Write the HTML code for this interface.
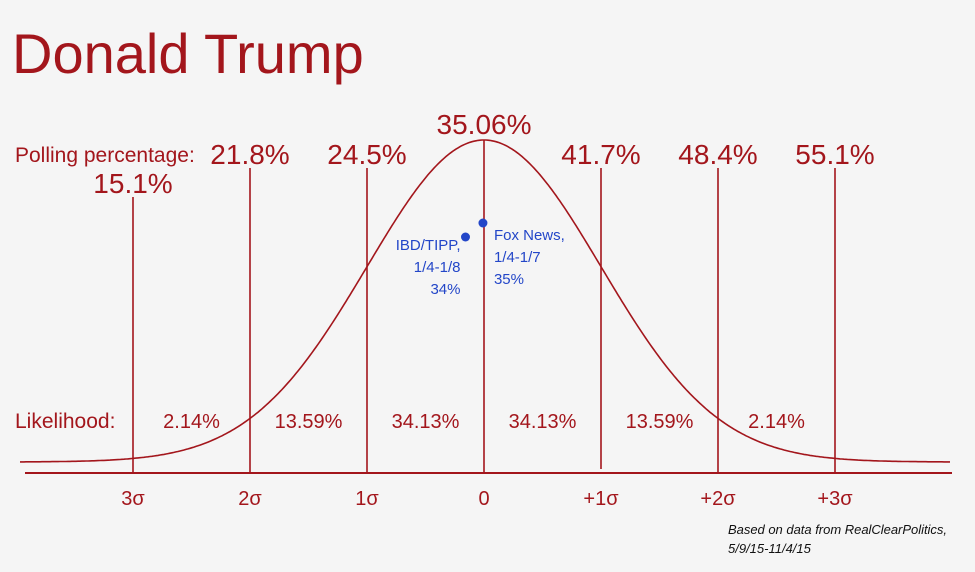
<!DOCTYPE html>
<html><head><meta charset="utf-8"><style>
body{margin:0;background:#f5f5f5;}
svg{display:block;font-family:"Liberation Sans",sans-serif;}
</style></head><body>
<svg width="975" height="572" id="c">
<rect width="975" height="572" fill="#f5f5f5"/>
<text x="12" y="73" font-size="56" fill="#a3161c">Donald Trump</text>
<text x="15" y="162" font-size="21" fill="#a3161c">Polling percentage:</text>
<text x="15" y="428" font-size="21" fill="#a3161c">Likelihood:</text>
<text x="728" y="534" font-size="13" font-style="italic" fill="#111" textLength="219">Based on data from RealClearPolitics,</text>
<text x="728" y="553" font-size="13" font-style="italic" fill="#111">5/9/15-11/4/15</text>
</svg>
<script>
const sigmaLabels=["3σ","2σ","1σ","0","+1σ","+2σ","+3σ"];
const sigmaSteps=[-3,-2,-1,0,1,2,3];
const pollValues=["15.1%","21.8%","24.5%","35.06%","41.7%","48.4%","55.1%"];
const likelihoods=["2.14%","13.59%","34.13%","34.13%","13.59%","2.14%"];
const pollNames=["IBD/TIPP,","Fox News,"];
const pollDates=["1/4-1/8","1/4-1/7"];
const pollPct=[34,35];
const mean=35.06, sd=6.7;
const svg=document.getElementById('c');const NS="http://www.w3.org/2000/svg";
const red="#a3161c";
const cx=484, sp=117, base=462, amp=322, axisY=473;
const X=s=>cx+s*sp;
const Xp=p=>X((p-mean)/sd);
function mk(t,a){const e=document.createElementNS(NS,t);for(const k in a)e.setAttribute(k,a[k]);svg.appendChild(e);return e;}
let ax=mk('line',{x1:25,x2:952,y1:axisY,y2:axisY,stroke:red,'stroke-width':2});


let d="";for(let x=20;x<=950;x+=2){const s=(x-cx)/sp;const y=base-amp*Math.exp(-s*s/2);d+=(x==20?"M":"L")+x+","+y.toFixed(1);}
let cv=mk('path',{d:d,fill:'none',stroke:red,'stroke-width':1.6});


sigmaSteps.forEach((s,i)=>{
 const x=X(s);
 const top=s==0?140:(s==-3?197:168);
 const ln=mk('line',{x1:x,x2:x,y1:top,y2:s==1?469:axisY,stroke:red,'stroke-width':1.6});
 
 
 const t=mk('text',{x:x,y:505,'font-size':20,fill:red,'text-anchor':'middle'});t.textContent=sigmaLabels[i];
 
 
 const vy=s==0?134:(s==-3?193:164);
 const v=mk('text',{x:x,y:vy,'font-size':28,fill:red,'text-anchor':'middle'});v.textContent=pollValues[i];
 
 
});
likelihoods.forEach((l,i)=>{
 const x=(X(sigmaSteps[i])+X(sigmaSteps[i+1]))/2;
 const t=mk('text',{x:x,y:428,'font-size':20,fill:red,'text-anchor':'middle'});t.textContent=l;
 
 
});
const dotY=[237,223];
pollPct.forEach((p,i)=>{
 const x=Xp(p);
 const c=mk('circle',{cx:x,cy:dotY[i],r:4.5,fill:'#2346c8'});
 
 
 const left=i==0;
 const tx=left?x-5:x+11, an=left?'end':'start', ty=left?250:240;
 [pollNames[i],pollDates[i],p+"%"].forEach((s,j)=>{
  const t=mk('text',{x:tx,y:ty+j*22,'font-size':15,fill:'#2346c8','text-anchor':an});t.textContent=s;
  
  
 });
});
</script>
</body></html>
